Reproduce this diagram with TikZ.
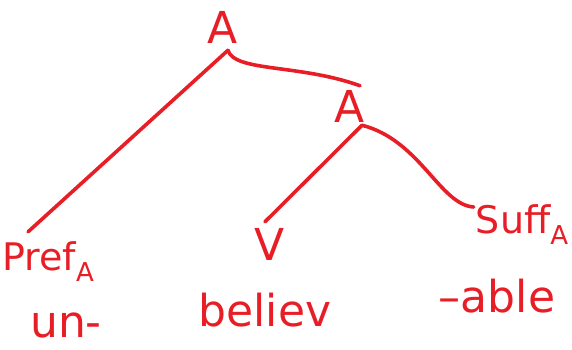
\documentclass[tikz,border=0pt]{standalone}
\usepackage{fontspec}
\setmainfont{DejaVu Sans}
\usetikzlibrary{calc}
\definecolor{ink}{RGB}{232,30,38}
\newcommand{\subA}{\raisebox{-11pt}{\fontsize{26}{26}\selectfont A}}
\begin{document}
\begin{tikzpicture}[x=1pt,y=-1pt,
  lbl/.style={text=ink,font=\fontsize{38}{38}\selectfont,inner sep=0pt},
  big/.style={font=\fontsize{44}{44}\selectfont},
  branch/.style={draw=ink,line width=3.6pt,line cap=round,line join=round}]
\useasboundingbox (0,0) rectangle (572,349);
\node[lbl,big] (A) at (223,27) {A};
\node[lbl,big] (A2) at (350,106) {A};
\node[lbl] (pref) at (48,262) {Pref\subA};
\node[lbl,big] (V) at (270,244) {V};
\node[lbl] (suff) at (522,225) {Suff\subA};
\node[lbl,big] (un) at (66,325) {un-};
\node[lbl,big] (believ) at (265,310) {believ};
\node[lbl,big] (able) at (497,296) {–able};
% branches
\draw[branch] ($(A.south)+(5,7)$) -- ($(pref.north west)+(26,-10)$);
\draw[branch] ($(A.south)+(5,7)$) .. controls (234,72) and (300,64) .. ($(A2.north)+(10,-4)$);
\draw[branch] ($(A2.south)+(12,3)$) -- ($(V.north)+(-5,-6)$);
\draw[branch] ($(A2.south)+(12,3)$) .. controls (420,140) and (440,205) .. ($(suff.west)+(-2,-18)$);
\end{tikzpicture}
\end{document}
